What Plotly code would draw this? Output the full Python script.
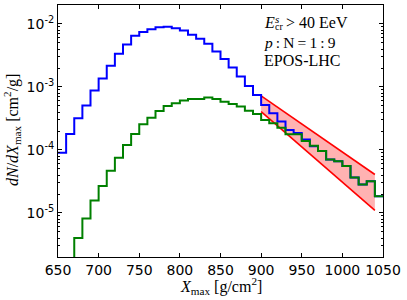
import math
import plotly.graph_objects as go

# ---- data ----
bin_edges_start = 650
bin_width = 10
n_bins = 40
bin_lefts = [bin_edges_start + bin_width * i for i in range(n_bins)]
x_right_edge = 1050

total = [9.0e-5, 1.79e-4, 3.2e-4, 5.06e-4, 8.8e-4, 1.36e-3, 2.17e-3, 3.37e-3,
         4.73e-3, 6.5e-3, 7.45e-3, 8.25e-3, 8.9e-3, 9.05e-3, 8.55e-3, 7.85e-3,
         6.76e-3, 5.8e-3, 4.84e-3, 3.66e-3, 2.77e-3, 2.04e-3, 1.47e-3, 1.04e-3,
         7.48e-4, 5.19e-4, 3.83e-4, 2.83e-4, 2.07e-4, 1.86e-4, 1.47e-4, 1.15e-4,
         9.6e-5, 7.08e-5, 6.65e-5, 5.54e-5, 3.66e-5, 2.83e-5, 3.2e-5, 1.85e-5]

proton = [0, 0, 4.0e-6, 8.15e-6, 1.57e-5, 2.69e-5, 4.67e-5, 7.5e-5,
          1.2e-4, 1.79e-4, 2.56e-4, 3.26e-4, 4.16e-4, 5.0e-4, 5.52e-4, 6.07e-4,
          6.45e-4, 6.45e-4, 6.78e-4, 6.45e-4, 5.8e-4, 5.38e-4, 4.88e-4, 4.21e-4,
          3.73e-4, 2.99e-4, 2.65e-4, 2.26e-4, 1.77e-4, 1.77e-4, 1.39e-4, 1.17e-4,
          9.6e-5, 7.08e-5, 6.65e-5, 5.54e-5, 3.66e-5, 2.83e-5, 3.2e-5, 1.85e-5]

band_x = [900, 1040]
band_upper = [7.2e-4, 4.08e-5]
band_lower = [4.06e-4, 1.1e-5]

x_ticks = [650, 700, 750, 800, 850, 900, 950, 1000, 1050]
y_ticks = [1e-5, 1e-4, 1e-3, 1e-2]
y_tick_labels = ['10<sup>-5</sup>', '10<sup>-4</sup>', '10<sup>-3</sup>', '10<sup>-2</sup>']
y_range = [2e-6, 2e-2]

FLOOR = 1e-9  # stands in for empty bins on the log axis


def step_xy(vals):
    xs = bin_lefts + [x_right_edge]
    ys = [v if v > 0 else FLOOR for v in vals]
    ys = ys + [ys[-1]]
    return xs, ys


fig = go.Figure()

fig.add_trace(go.Scatter(x=band_x, y=band_lower, mode='lines',
                         line=dict(color='red', width=1.6), showlegend=False))
fig.add_trace(go.Scatter(x=band_x, y=band_upper, mode='lines', fill='tonexty',
                         fillcolor='rgba(255,0,0,0.3)',
                         line=dict(color='red', width=1.6), showlegend=False))

bx, by = step_xy(total)
fig.add_trace(go.Scatter(x=bx, y=by, mode='lines', line_shape='hv',
                         line=dict(color='#0000ff', width=2), showlegend=False))
gx, gy = step_xy(proton)
fig.add_trace(go.Scatter(x=gx, y=gy, mode='lines', line_shape='hv',
                         line=dict(color='#008000', width=2), showlegend=False))

L, R, T, B = 58, 24, 5, 43
W, H = 407, 300
pw, ph = W - L - R, H - T - B


def px(xp):
    return (xp - L) / pw


def py(yp):
    return (H - B - yp) / ph


serif = 'Liberation Serif'
ann = [
    dict(text='<i>E</i>', x=px(262), y=py(22.5), size=16),
    dict(text='<i>s</i>', x=px(272.5), y=py(18.5), size=11),
    dict(text='cr', x=px(272.5), y=py(26.5), size=10),
    dict(text='> 40 EeV', x=px(284), y=py(22.5), size=16),
    dict(text='<i>p</i>\u2009:\u2009N\u2009=\u20091\u2009:\u20099', x=px(262), y=py(42), size=15.5),
    dict(text='EPOS-LHC', x=px(262), y=py(60), size=16),
]
for a in ann:
    fig.add_annotation(text=a['text'], x=a['x'], y=a['y'], xref='paper', yref='paper',
                       xanchor='left', yanchor='middle', showarrow=False,
                       font=dict(family=serif, size=a['size'], color='black'))

# axis titles
fig.add_annotation(text='<i>X</i><sub>max</sub> [g/cm<sup>2</sup>]',
                   x=px(221), y=py(286), xref='paper', yref='paper',
                   xanchor='center', yanchor='middle', showarrow=False,
                   font=dict(family=serif, size=16, color='black'))
fig.add_annotation(text='<i>dN</i>/<i>dX</i><sub>max</sub> [cm<sup>2</sup>/g]',
                   x=px(12), y=py(130), xref='paper', yref='paper', textangle=-90,
                   xanchor='center', yanchor='middle', showarrow=False,
                   font=dict(family=serif, size=16, color='black'))

fig.update_layout(
    width=W, height=H,
    margin=dict(l=L, r=R, t=T, b=B, autoexpand=False),
    plot_bgcolor='white', paper_bgcolor='white',
    font=dict(family='DejaVu Sans', size=14, color='black'),
    showlegend=False,
)
fig.update_xaxes(
    range=[650, 1050], tickvals=x_ticks, ticks='inside', ticklen=4,
    tickcolor='black', showline=True, linecolor='black', linewidth=1,
    mirror='allticks', showgrid=False, zeroline=False, automargin=False,
    tickfont=dict(family='DejaVu Sans', size=14),
)
fig.update_yaxes(
    type='log', range=[math.log10(y_range[0]), math.log10(y_range[1])],
    tickvals=y_ticks, ticktext=y_tick_labels,
    ticks='inside', ticklen=4, tickcolor='black',
    minor=dict(ticks='inside', ticklen=2, dtick='D1', tickcolor='black', showgrid=False),
    showline=True, linecolor='black', linewidth=1,
    mirror='allticks', showgrid=False, zeroline=False, automargin=False,
    tickfont=dict(family='DejaVu Sans', size=14),
)

fig.write_html('out.html', config={'displayModeBar': False},
               post_script="document.body.style.margin='0';document.body.style.overflow='hidden';")
